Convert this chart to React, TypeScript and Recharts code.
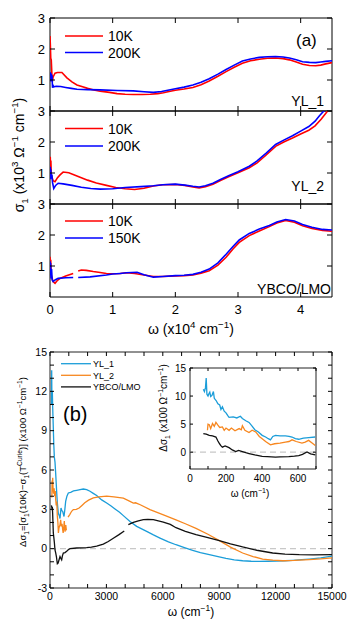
import React from "react"
import { LineChart, Line, XAxis, YAxis, ReferenceArea, ReferenceLine } from "recharts"

const FONT = "'Liberation Sans', Arial, Helvetica, sans-serif"

// panel (a): omega in units of 10^4 cm^-1, sigma1 in 10^3 Ohm^-1 cm^-1
const omegaTicksA = [0, 1, 2, 3, 4]
const sigmaTicksA = [1, 2, 3]

const yl1Cold: [number, number | null][] = [
  [0, 2.42], [0.006, 2.1], [0.012, 1.7], [0.02, 1.65], [0.03, 1.2], [0.037, 0.95], [0.05, 1.1], [0.08, 1.22],
  [0.12, 1.24], [0.19, 1.24], [0.27, 1.07], [0.35, 0.94], [0.43, 0.84], [0.52, 0.78], [0.6, 0.73], [0.7, 0.68],
  [0.8, 0.64], [0.95, 0.6], [1.07, 0.56], [1.2, 0.54], [1.33, 0.53], [1.47, 0.53], [1.6, 0.54], [1.72, 0.56],
  [1.81, 0.59], [1.9, 0.63], [2.0, 0.67], [2.14, 0.71], [2.28, 0.76], [2.41, 0.85], [2.54, 0.97], [2.68, 1.12],
  [2.81, 1.27], [2.94, 1.41], [3.07, 1.54], [3.2, 1.62], [3.34, 1.67], [3.47, 1.7], [3.6, 1.71], [3.72, 1.69],
  [3.82, 1.65], [3.93, 1.58], [4.03, 1.51], [4.14, 1.47], [4.24, 1.46], [4.32, 1.48], [4.4, 1.52], [4.5, 1.56],
]
const yl1Warm: [number, number | null][] = [
  [0, 1.05], [0.004, 1.25], [0.008, 0.95], [0.012, 1.22], [0.016, 1.0], [0.02, 1.2], [0.026, 1.05], [0.032, 1.15],
  [0.04, 0.75], [0.05, 0.82], [0.06, 0.78], [0.1, 0.8], [0.17, 0.79], [0.25, 0.76], [0.34, 0.73], [0.43, 0.7],
  [0.6, 0.69], [0.8, 0.68], [1.07, 0.66], [1.33, 0.65], [1.5, 0.62], [1.65, 0.6], [1.78, 0.63], [1.9, 0.68],
  [2.0, 0.72], [2.14, 0.77], [2.28, 0.84], [2.41, 0.93], [2.54, 1.04], [2.68, 1.19], [2.81, 1.34], [2.94, 1.48],
  [3.07, 1.61], [3.2, 1.68], [3.34, 1.73], [3.47, 1.75], [3.6, 1.76], [3.72, 1.74], [3.82, 1.71], [3.93, 1.65],
  [4.03, 1.59], [4.14, 1.57], [4.24, 1.56], [4.32, 1.58], [4.4, 1.6], [4.5, 1.62],
]
const yl2Cold: [number, number | null][] = [
  [0, 1.0], [0.004, 1.52], [0.009, 1.1], [0.014, 1.4], [0.02, 0.95], [0.03, 0.88], [0.05, 0.75], [0.08, 0.72],
  [0.12, 0.85], [0.16, 0.94], [0.21, 1.03], [0.3, 1.01], [0.4, 0.93], [0.5, 0.85], [0.6, 0.77], [0.74, 0.68],
  [0.9, 0.6], [1.05, 0.53], [1.2, 0.49], [1.35, 0.47], [1.5, 0.51], [1.65, 0.58], [1.8, 0.62], [2.0, 0.63],
  [2.15, 0.6], [2.28, 0.55], [2.38, 0.52], [2.48, 0.56], [2.6, 0.64], [2.72, 0.76], [2.85, 0.88], [3.0, 1.01],
  [3.18, 1.17], [3.3, 1.32], [3.45, 1.58], [3.6, 1.86], [3.73, 2.0], [3.87, 2.13], [4.0, 2.26], [4.13, 2.38],
  [4.23, 2.52], [4.33, 2.74], [4.43, 3.0], [4.5, 3.18],
]
const yl2Warm: [number, number | null][] = [
  [0, 0.9], [0.004, 1.2], [0.008, 0.8], [0.013, 1.12], [0.02, 0.85], [0.03, 0.95], [0.04, 0.7], [0.06, 0.5],
  [0.09, 0.6], [0.13, 0.67], [0.21, 0.65], [0.35, 0.6], [0.5, 0.54], [0.65, 0.5], [0.8, 0.48], [1.0, 0.49],
  [1.2, 0.53], [1.45, 0.56], [1.65, 0.59], [1.8, 0.62], [2.0, 0.64], [2.15, 0.61], [2.28, 0.57], [2.38, 0.55],
  [2.48, 0.59], [2.6, 0.67], [2.72, 0.79], [2.85, 0.91], [3.0, 1.04], [3.18, 1.22], [3.3, 1.38], [3.45, 1.64],
  [3.6, 1.92], [3.73, 2.06], [3.87, 2.2], [4.0, 2.35], [4.13, 2.5], [4.23, 2.67], [4.3, 2.85], [4.37, 3.0], [4.5, 3.28],
]
const ybcoCold: [number, number | null][] = [
  [0, 1.3], [0.006, 0.8], [0.012, 1.2], [0.02, 0.7], [0.035, 0.6], [0.05, 0.5], [0.08, 0.44], [0.12, 0.54],
  [0.16, 0.6], [0.25, 0.68], [0.37, 0.76], [0.4, null], [0.45, 0.84], [0.5, 0.87], [0.58, 0.86], [0.69, 0.82],
  [0.8, 0.79], [0.9, 0.76], [1.0, 0.75], [1.12, 0.76], [1.22, 0.78], [1.35, 0.76], [1.5, 0.71], [1.65, 0.66],
  [1.8, 0.66], [2.0, 0.68], [2.14, 0.69], [2.28, 0.71], [2.41, 0.77], [2.54, 0.85], [2.68, 1.03], [2.81, 1.28],
  [2.92, 1.55], [3.02, 1.76], [3.18, 1.98], [3.34, 2.13], [3.5, 2.27], [3.62, 2.39], [3.76, 2.47], [3.9, 2.41],
  [4.03, 2.3], [4.18, 2.21], [4.35, 2.15], [4.5, 2.12],
]
const ybcoWarm: [number, number | null][] = [
  [0, 1.15], [0.005, 0.7], [0.01, 1.1], [0.016, 0.6], [0.025, 0.9], [0.035, 0.55], [0.05, 0.5], [0.08, 0.55],
  [0.13, 0.6], [0.25, 0.62], [0.37, 0.63], [0.4, null], [0.45, 0.63], [0.64, 0.65], [0.9, 0.71], [1.0, 0.74],
  [1.12, 0.76], [1.22, 0.78], [1.39, 0.8], [1.5, 0.72], [1.65, 0.64], [1.8, 0.66], [2.0, 0.69], [2.14, 0.7],
  [2.28, 0.73], [2.41, 0.8], [2.54, 0.9], [2.68, 1.1], [2.81, 1.38], [2.92, 1.63], [3.02, 1.84], [3.18, 2.05],
  [3.34, 2.19], [3.5, 2.31], [3.62, 2.42], [3.76, 2.5], [3.9, 2.45], [4.03, 2.34], [4.18, 2.25], [4.35, 2.18], [4.5, 2.16],
]

// panel (b): delta sigma1 in 100 Ohm^-1 cm^-1 vs omega in cm^-1
const omegaTicksB = [0, 1000, 2000, 3000, 4000, 5000, 6000, 7000, 8000, 9000, 10000, 11000, 12000, 13000, 14000, 15000]
const deltaTicksB = [-3, -2, -1, 0, 1, 2, 3, 4, 5, 6, 7, 8, 9, 10, 11, 12, 13, 14, 15]

const dYL1: [number, number | null][] = [
  [80, 11.0], [90, 13.6], [100, 11.5], [124, 12.0], [143, 10.8], [170, 9.5], [200, 8.0], [230, 7.0], [266, 6.6],
  [300, 5.8], [319, 5.3], [360, 4.2], [390, 3.5], [443, 2.7], [500, 2.5], [532, 2.3], [585, 3.1], [630, 2.9],
  [674, 2.85], [745, 2.45], [790, 3.0], [833, 3.6], [900, 4.0], [975, 4.25], [1100, 4.3], [1250, 4.4], [1418, 4.45],
  [1600, 4.5], [1773, 4.55], [1950, 4.5], [2128, 4.38], [2300, 4.22], [2482, 4.05], [2750, 3.72], [3014, 3.48],
  [3250, 3.25], [3457, 3.03], [3700, 2.78], [3901, 2.52], [4255, 2.08], [4610, 1.7], [5142, 1.32], [5500, 1.05],
  [5851, 0.81], [6300, 0.52], [6702, 0.3], [7150, 0.08], [7589, -0.13], [8000, -0.3], [8475, -0.46], [9000, -0.62],
  [9362, -0.74], [9800, -0.85], [10248, -0.92], [10700, -0.96], [11135, -0.97], [11600, -0.96], [12021, -0.94],
  [12500, -0.92], [12908, -0.89], [13400, -0.84], [13794, -0.79], [14400, -0.7], [15000, -0.57],
]
const dYL2: [number, number | null][] = [
  [100, 3.9], [110, 5.2], [125, 4.4], [144, 5.4], [165, 4.5], [190, 4.2], [220, 4.6], [250, 4.0], [280, 4.4],
  [300, 3.8], [330, 3.3], [360, 3.6], [390, 2.5], [420, 2.0], [447, 1.2], [480, 1.6], [530, 1.8], [567, 2.2],
  [600, 1.7], [640, 1.9], [680, 1.4], [700, 1.2], [730, 1.6], [760, 2.1], [800, 1.3], [840, 1.8], [870, 1.4],
  [920, null], [960, 2.4], [1050, 2.6], [1150, 2.85], [1241, 2.98], [1400, 3.0], [1550, 3.1], [1700, 3.3],
  [1850, 3.5], [2050, 3.7], [2305, 3.87], [2600, 3.95], [3014, 4.0], [3400, 3.95], [3901, 3.85], [4200, 3.65],
  [4433, 3.48], [4550, 3.5], [4800, 3.35], [5319, 2.98], [6000, 2.6], [6702, 2.2], [7200, 1.9], [7766, 1.55],
  [8400, 1.1], [9007, 0.61], [9600, 0.12], [10248, -0.33], [10800, -0.6], [11312, -0.79], [11850, -0.88],
  [12376, -0.92], [13000, -0.9], [13794, -0.84], [14400, -0.78], [15000, -0.7],
]
const dYBCO: [number, number | null][] = [
  [75, 3.3], [100, 3.1], [124, 3.2], [143, 2.6], [160, 1.9], [176, 1.2], [200, 0.9], [230, 0.5], [266, -0.1],
  [300, -0.3], [340, -0.6], [390, -1.15], [430, -1.1], [470, -0.9], [532, -0.6], [580, -0.75], [620, -0.85],
  [660, -0.55], [709, -0.33], [800, -0.3], [887, -0.2], [1000, -0.05], [1064, 0.0], [1418, 0.05], [1950, 0.08],
  [2200, 0.12], [2482, 0.2], [2836, 0.35], [3100, 0.55], [3369, 0.8], [3650, 1.05], [3950, 1.35], [4050, null],
  [4167, 1.83], [4433, 2.0], [4700, 2.12], [4965, 2.21], [5200, 2.23], [5496, 2.21], [6028, 2.03], [6400, 1.85],
  [6702, 1.6], [7200, 1.32], [7766, 1.07], [8400, 0.85], [9007, 0.61], [9600, 0.37], [10248, 0.13], [11000, -0.12],
  [11844, -0.33], [12500, -0.42], [13262, -0.46], [14000, -0.47], [15000, -0.46],
]

// inset: low-frequency zoom
const omegaTicksInset = [0, 100, 200, 300, 400, 500, 600, 700]
const deltaTicksInset = [0, 5, 10, 15]

const insetYL1: [number, number | null][] = [
  [74, 11.2], [80, 10.8], [86, 11.5], [90, 13.2], [94, 10.3], [100, 10.0], [105, 10.4], [110, 10.7], [115, 9.9],
  [122, 10.1], [130, 10.8], [135, 9.6], [145, 9.2], [155, 8.6], [165, 8.4], [172, 7.6], [180, 8.1], [190, 7.3],
  [200, 7.0], [210, 6.5], [217, 6.2], [240, 6.3], [260, 6.1], [280, 6.4], [291, 6.0], [310, 5.6], [328, 5.3],
  [346, 4.6], [360, 4.0], [380, 3.6], [401, 3.0], [420, 2.7], [435, 2.4], [447, 2.2], [460, 2.8], [475, 3.0],
  [500, 2.9], [530, 2.9], [550, 2.8], [567, 2.7], [585, 2.4], [604, 2.3], [630, 2.5], [660, 2.6], [696, 2.7],
]
const insetYL2: [number, number | null][] = [
  [97, 3.9], [100, 5.0], [107, 4.9], [115, 4.2], [125, 5.1], [135, 4.6], [144, 5.3], [155, 4.8], [165, 4.4],
  [180, 4.5], [190, 3.9], [200, 4.3], [217, 3.9], [230, 4.3], [250, 3.8], [273, 4.2], [285, 4.0], [291, 4.7],
  [305, 3.9], [328, 3.5], [345, 3.9], [365, 3.6], [385, 2.8], [401, 2.4], [420, 1.9], [447, 1.3], [470, 1.5],
  [500, 1.6], [530, 1.8], [550, 1.9], [567, 2.2], [590, 1.9], [622, 1.6], [640, 1.8], [659, 2.1], [680, 1.6], [696, 1.2],
]
const insetYBCO: [number, number | null][] = [
  [74, 3.3], [90, 3.2], [107, 3.0], [125, 2.9], [144, 2.7], [155, 2.0], [162, 1.6], [170, 1.2], [180, 0.9],
  [195, 1.1], [217, 0.8], [235, 0.4], [254, 0.1], [270, 0.3], [291, 0.1], [310, -0.1], [328, -0.25], [360, -0.5],
  [401, -0.75], [430, -0.8], [475, -0.9], [500, -0.85], [549, -0.8], [580, -0.7], [604, -0.6], [625, -0.4],
  [650, 0.05], [670, -0.3], [696, -0.5],
]

const sampleNames = ["YL_1", "YL_2", "YBCO/LMO"]
const tempLegends = [["10K", "200K"], ["10K", "200K"], ["10K", "150K"]]

const RED = "#ff0000"
const BLUE = "#0000ff"
const CYAN = "#1b9dd9"
const ORANGE = "#f7871f"
const BLACK = "#111111"

const pts = (a: [number, number | null][]) => a.map(([x, y]) => ({ x, y }))

const isMajor = (v: number, every: number) => every > 0 && Math.abs(v / every - Math.round(v / every)) < 1e-6

// inward ticks on both sides (matlab style)
const xTick = (plotH: number, size: number, dy: number, every: number, len: number) => (p: any) => {
  const { x, y, payload } = p
  return (
    <g>
      <line x1={x} x2={x} y1={y} y2={y - len} stroke="#000" />
      <line x1={x} x2={x} y1={y - plotH} y2={y - plotH + len} stroke="#000" />
      {isMajor(payload.value, every) && (
        <text x={x} y={y + dy} textAnchor="middle" fontSize={size} fontFamily={FONT} fill="#000">
          {payload.value}
        </text>
      )}
    </g>
  )
}

const yTick = (plotW: number, size: number, dx: number, every: number, len: number) => (p: any) => {
  const { x, y, payload } = p
  return (
    <g>
      <line x1={x} x2={x + len} y1={y} y2={y} stroke="#000" />
      <line x1={x + plotW} x2={x + plotW - len} y1={y} y2={y} stroke="#000" />
      {isMajor(payload.value, every) && (
        <text x={x - dx} y={y} dy="0.36em" textAnchor="end" fontSize={size} fontFamily={FONT} fill="#000">
          {payload.value}
        </text>
      )}
    </g>
  )
}

type Part = [string, "n" | "sup" | "sub"]

function RichText({ x, y, size, parts, rotate = false, anchor = "middle" }: any) {
  let cur = 0
  const spans = (parts as Part[]).map(([t, k], i) => {
    const target = k === "sup" ? -0.42 * size : k === "sub" ? 0.28 * size : 0
    const dy = target - cur
    cur = target
    return (
      <tspan key={i} dy={dy} fontSize={k === "n" ? size : size * 0.7}>
        {t}
      </tspan>
    )
  })
  return (
    <text
      x={x}
      y={y}
      textAnchor={anchor}
      fontFamily={FONT}
      fontSize={size}
      fill="#000"
      transform={rotate ? `rotate(-90 ${x} ${y})` : undefined}
    >
      {spans}
    </text>
  )
}

function SigmaPanel({ cold, warm, top, showX }: any) {
  const plotH = 93
  const axisH = showX ? 26 : 4
  return (
    <div style={{ position: "absolute", left: 0, top: top - 6 }}>
      <LineChart width={352} height={6 + plotH + axisH} margin={{ top: 6, right: 20, bottom: 0, left: 0 }}>
        <XAxis
          dataKey="x"
          type="number"
          domain={[0, 4.5]}
          ticks={omegaTicksA}
          interval={0}
          height={axisH}
          allowDataOverflow
          axisLine={false}
          tickLine={false}
          tickSize={0}
          tickMargin={0}
          tick={xTick(plotH, 13, 17, showX ? 1 : 0, 5)}
        />
        <YAxis
          type="number"
          domain={[0, 3]}
          ticks={sigmaTicksA}
          interval={0}
          width={50}
          allowDataOverflow
          axisLine={false}
          tickLine={false}
          tickSize={0}
          tickMargin={0}
          tick={yTick(282, 13, 5, 1, 5)}
        />
        <ReferenceArea x1={0} x2={4.5} y1={0} y2={3} fill="none" fillOpacity={0} stroke="#000" strokeWidth={1} />
        <Line data={pts(cold)} dataKey="y" stroke={RED} strokeWidth={1.6} dot={false} isAnimationActive={false} />
        <Line data={pts(warm)} dataKey="y" stroke={BLUE} strokeWidth={1.6} dot={false} isAnimationActive={false} />
      </LineChart>
    </div>
  )
}

export default function App() {
  const legendY = [[36, 52.5], [128.5, 146], [221, 238]]
  const sampleY = [106, 191, 294]
  return (
    <div style={{ position: "absolute", left: 0, top: 0, width: 352, height: 624, background: "#fff", fontFamily: FONT }}>
      <SigmaPanel cold={yl1Cold} warm={yl1Warm} top={18} showX={false} />
      <SigmaPanel cold={yl2Cold} warm={yl2Warm} top={111} showX={false} />
      <SigmaPanel cold={ybcoCold} warm={ybcoWarm} top={204} showX={true} />

      {/* panel (b) main */}
      <div style={{ position: "absolute", left: 0, top: 330 }}>
        <LineChart width={352} height={294} margin={{ top: 22, right: 20, bottom: 0, left: 0 }}>
          <XAxis
            dataKey="x"
            type="number"
            domain={[0, 15000]}
            ticks={omegaTicksB}
            interval={0}
            height={36}
            allowDataOverflow
            axisLine={false}
            tickLine={false}
            tickSize={0}
            tickMargin={0}
            tick={xTick(236, 10.5, 12, 3000, 4)}
          />
          <YAxis
            type="number"
            domain={[-3, 15]}
            ticks={deltaTicksB}
            interval={0}
            width={50}
            allowDataOverflow
            axisLine={false}
            tickLine={false}
            tickSize={0}
            tickMargin={0}
            tick={yTick(282, 10.5, 3, 3, 4)}
          />
          <ReferenceArea x1={0} x2={15000} y1={-3} y2={15} fill="none" fillOpacity={0} stroke="#222" strokeWidth={1} />
          <ReferenceLine y={0} stroke="#c8c8c8" strokeWidth={1.3} strokeDasharray="6 4" />
          <Line data={pts(dYL1)} dataKey="y" stroke={CYAN} strokeWidth={1.3} dot={false} isAnimationActive={false} />
          <Line data={pts(dYL2)} dataKey="y" stroke={ORANGE} strokeWidth={1.3} dot={false} isAnimationActive={false} />
          <Line data={pts(dYBCO)} dataKey="y" stroke={BLACK} strokeWidth={1.3} dot={false} isAnimationActive={false} />
        </LineChart>
      </div>

      {/* inset */}
      <div style={{ position: "absolute", left: 150, top: 350 }}>
        <LineChart width={170} height={150} margin={{ top: 18, right: 4, bottom: 0, left: 0 }}>
          <XAxis
            dataKey="x"
            type="number"
            domain={[0, 700]}
            ticks={omegaTicksInset}
            interval={0}
            height={31}
            allowDataOverflow
            axisLine={false}
            tickLine={false}
            tickSize={0}
            tickMargin={0}
            tick={xTick(101, 10, 13, 200, 3)}
          />
          <YAxis
            type="number"
            domain={[-3, 15]}
            ticks={deltaTicksInset}
            interval={0}
            width={40}
            allowDataOverflow
            axisLine={false}
            tickLine={false}
            tickSize={0}
            tickMargin={0}
            tick={yTick(126, 10, 4, 5, 3)}
          />
          <ReferenceArea x1={0} x2={700} y1={-3} y2={15} fill="none" fillOpacity={0} stroke="#222" strokeWidth={1} />
          <ReferenceLine y={0} stroke="#c8c8c8" strokeWidth={1.3} strokeDasharray="6 4" />
          <Line data={pts(insetYL1)} dataKey="y" stroke={CYAN} strokeWidth={1.3} dot={false} isAnimationActive={false} />
          <Line data={pts(insetYL2)} dataKey="y" stroke={ORANGE} strokeWidth={1.3} dot={false} isAnimationActive={false} />
          <Line data={pts(insetYBCO)} dataKey="y" stroke={BLACK} strokeWidth={1.3} dot={false} isAnimationActive={false} />
        </LineChart>
      </div>

      {/* annotations */}
      <svg width={352} height={624} style={{ position: "absolute", left: 0, top: 0, pointerEvents: "none" }}>
        {tempLegends.map((pair, i) => (
          <g key={i}>
            <line x1={65} x2={103} y1={legendY[i][0]} y2={legendY[i][0]} stroke={RED} strokeWidth={1.6} />
            <line x1={65} x2={103} y1={legendY[i][1]} y2={legendY[i][1]} stroke={BLUE} strokeWidth={1.6} />
            <text x={108} y={legendY[i][0]} dy="0.36em" fontSize={14} fontFamily={FONT}>{pair[0]}</text>
            <text x={108} y={legendY[i][1]} dy="0.36em" fontSize={14} fontFamily={FONT}>{pair[1]}</text>
            <text x={i === 2 ? 331 : 324} y={sampleY[i]} textAnchor="end" fontSize={14} fontFamily={FONT}>
              {sampleNames[i]}
            </text>
          </g>
        ))}
        <text x={296} y={46} fontSize={17} fontFamily={FONT}>(a)</text>
        <RichText x={191} y={334} size={14} parts={[["ω (x10", "n"], ["4", "sup"], [" cm", "n"], ["−1", "sup"], [")", "n"]]} />
        <RichText
          x={24}
          y={155}
          size={14}
          rotate
          parts={[["σ", "n"], ["1", "sub"], [" (x10", "n"], ["3", "sup"], [" Ω", "n"], ["−1", "sup"], [" cm", "n"], ["−1", "sup"], [")", "n"]]}
        />

        {sampleNames.map((name, i) => (
          <g key={name}>
            <line x1={61} x2={91} y1={363.7 + i * 11.6} y2={363.7 + i * 11.6} stroke={[CYAN, ORANGE, BLACK][i]} strokeWidth={1.3} />
            <text x={93} y={363.7 + i * 11.6} dy="0.36em" fontSize={9} fontFamily={FONT}>{name}</text>
          </g>
        ))}
        <text x={63} y={421} fontSize={20} fontFamily={FONT}>(b)</text>
        <RichText x={191} y={616} size={12} parts={[["ω (cm", "n"], ["−1", "sup"], [")", "n"]]} />
        <RichText
          x={26}
          y={462}
          size={9.5}
          rotate
          parts={[
            ["Δσ", "n"], ["1", "sub"], ["=[σ", "n"], ["1", "sub"], ["(10K)−σ", "n"], ["1", "sub"], ["(T", "n"],
            ["Curie", "sup"], [")] (x100 Ω", "n"], ["−1", "sup"], ["cm", "n"], ["−1", "sup"], [")", "n"],
          ]}
        />
        <RichText x={250} y={497} size={10} parts={[["ω  (cm", "n"], ["−1", "sup"], [")", "n"]]} />
        <RichText
          x={167}
          y={408}
          size={10}
          rotate
          parts={[["Δσ", "n"], ["1", "sub"], [" (x100 Ω", "n"], ["−1", "sup"], ["cm", "n"], ["−1", "sup"], [")", "n"]]}
        />
      </svg>
    </div>
  )
}
